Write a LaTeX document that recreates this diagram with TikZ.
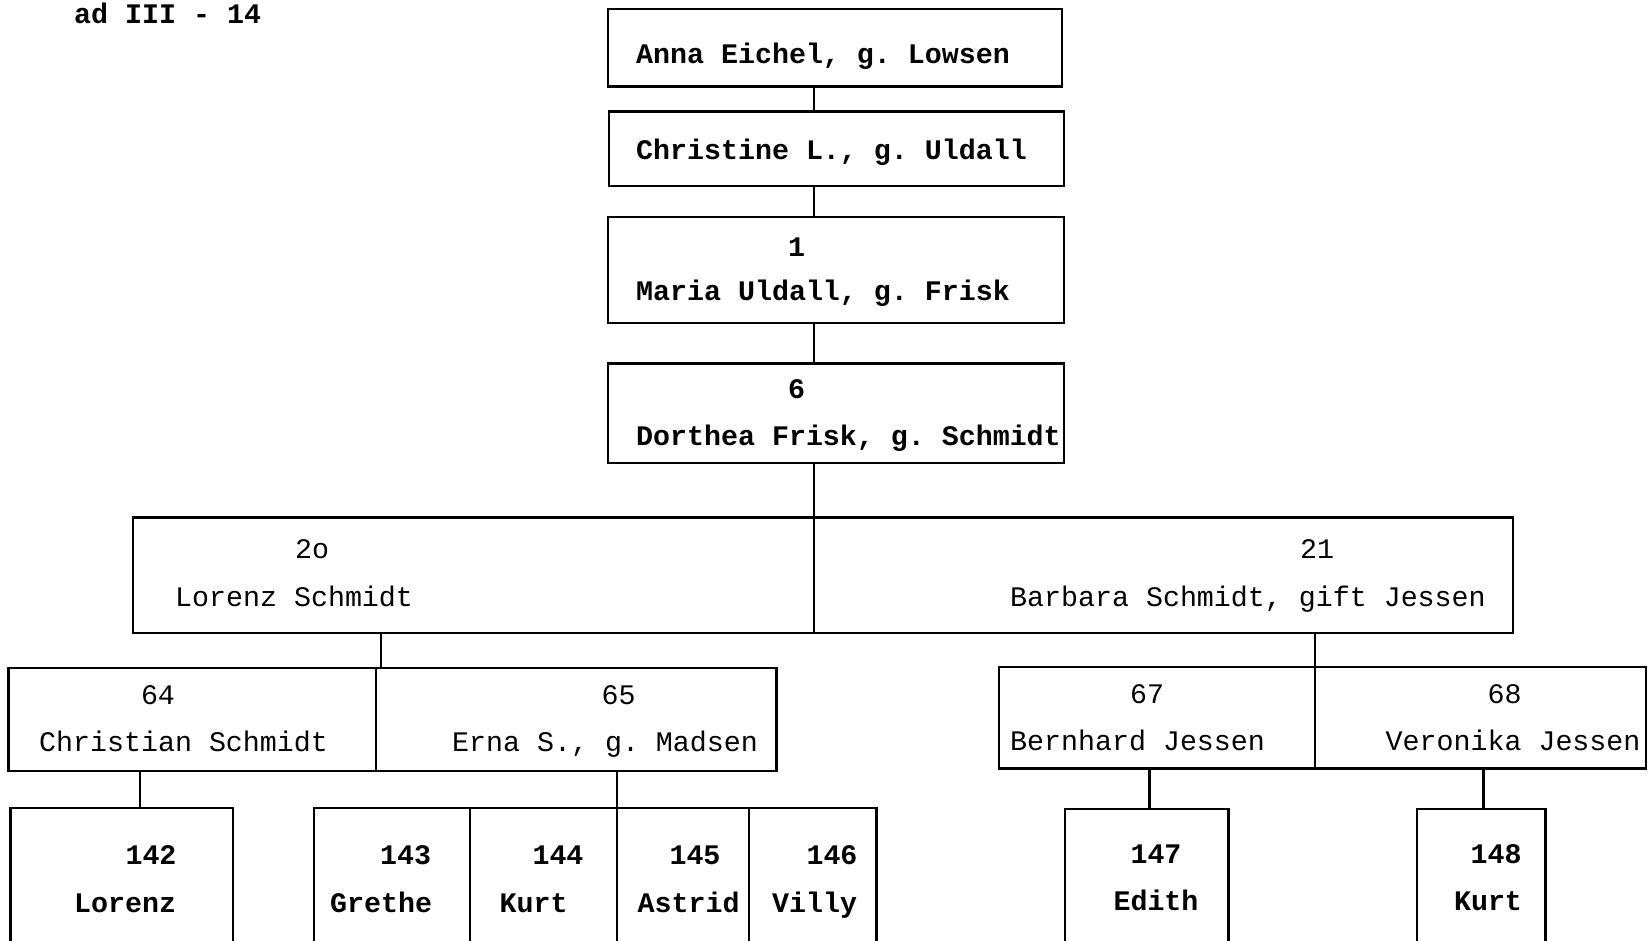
\documentclass[tikz,border=0pt]{standalone}
\usepackage{fontspec}
\setmonofont{Liberation Mono}
\newcommand\mkbox[5]{%
  \pgfmathsetmacro\mkbw{#4-#2}%
  \pgfmathsetmacro\mkbh{#5-#3}%
  \node[box, minimum width=\mkbw pt, minimum height=\mkbh pt] (#1) at ({(#2+#4)/2},{(#3+#5)/2}) {};%
}
\tikzset{
  box/.style={draw, line width=2.2pt, rectangle, inner sep=0pt, outer sep=0pt},
  lbl/.style={inner sep=0pt, font=\ttfamily\fontsize{28.3}{30}\selectfont},
  lblb/.style={inner sep=0pt, font=\ttfamily\bfseries\fontsize{28.3}{30}\selectfont},
  conn/.style={line width=2.2pt},
}
\begin{document}
\begin{tikzpicture}[x=1pt,y=-1pt]
\clip (0,0) rectangle (1652,940);
\fill[white] (0,0) rectangle (1652,940);
% boxes
\mkbox{A}{608}{9}{1062}{86.5}
\mkbox{B}{609}{111.5}{1064}{186}
\mkbox{C}{608}{217}{1064}{323}
\mkbox{D}{608}{363.5}{1064}{463}
\mkbox{E20}{133}{517.5}{814}{633}
\mkbox{E21}{814}{517.5}{1513}{633}
\mkbox{F64}{8.5}{668}{376}{771}
\mkbox{F65}{376}{668}{776.5}{771}
\mkbox{G67}{999}{667}{1315}{768.5}
\mkbox{G68}{1315}{667}{1646}{768.5}
\mkbox{H}{10.5}{808}{233}{990}
\mkbox{I143}{314}{808}{470}{990}
\mkbox{I144}{470}{808}{617}{990}
\mkbox{I145}{617}{808}{749}{990}
\mkbox{I146}{749}{808}{876.5}{990}
\mkbox{J}{1065}{809}{1228.5}{990}
\mkbox{K}{1417}{809}{1545.5}{990}
% connector positions
\coordinate (sp) at (814,0);
\coordinate (kF) at (381,0);
\coordinate (kH) at (140,0);
\coordinate (kJ) at (1149.5,0);
\coordinate (kK) at (1483.5,0);
% connectors
\draw[conn] (A.south -| sp) -- (B.north -| sp);
\draw[conn] (B.south -| sp) -- (C.north -| sp);
\draw[conn] (C.south -| sp) -- (D.north -| sp);
\draw[conn] (D.south -| sp) -- (E20.north east);
\draw[conn] (E20.south -| kF) -- (F64.north -| kF);
\draw[conn] (E21.south -| G67.east) -- (G67.north east);
\draw[conn] (F64.south -| kH) -- (H.north -| kH);
\draw[conn] (F65.south -| I144.east) -- (I144.north east);
\draw[conn] (G67.south -| kJ) -- (J.north -| kJ);
\draw[conn] (G68.south -| kK) -- (K.north -| kK);
% texts
\node[lblb, anchor=base west] (tAd) at (74,23) {ad III - 14};
\node[lblb, anchor=base west] (tA) at (636,63) {Anna Eichel, g. Lowsen};
\node[lblb, anchor=base west] (tB) at (636,159) {Christine L., g. Uldall};
\node[lblb, anchor=base] (nC) at (796.5,256) {1};
\node[lblb, anchor=base west] (tC) at (636,300) {Maria Uldall, g. Frisk};
\node[lblb, anchor=base] (nD) at (796.5,398) {6};
\node[lblb, anchor=base west] (tD) at (636,445) {Dorthea Frisk, g. Schmidt};
\node[lbl, anchor=base] (n20) at (312,558) {2o};
\node[lbl, anchor=base west] (t20) at (175,606) {Lorenz Schmidt};
\node[lbl, anchor=base] (n21) at (1317,558) {21};
\node[lbl, anchor=base west] (t21) at (1010,606) {Barbara Schmidt, gift Jessen};
\node[lbl, anchor=base] (n64) at (158,704) {64};
\node[lbl, anchor=base west] (t64) at (39,751) {Christian Schmidt};
\node[lbl, anchor=base] (n65) at (618.5,704) {65};
\node[lbl, anchor=base west] (t65) at (452,751) {Erna S., g. Madsen};
\node[lbl, anchor=base] (n67) at (1147,703) {67};
\node[lbl, anchor=base west] (t67) at (1010,750) {Bernhard Jessen};
\node[lbl, anchor=base] (n68) at (1504.5,703) {68};
\node[lbl, anchor=base west] (t68) at (1385.5,750) {Veronika Jessen};
\node[lblb, anchor=base] (n142) at (151,864) {142};
\node[lblb, anchor=base west] (t142) at (74,912) {Lorenz};
\node[lblb, anchor=base] (n143) at (405.6,864) {143};
\node[lblb, anchor=base west] (t143) at (330,912) {Grethe};
\node[lblb, anchor=base] (n144) at (558,864) {144};
\node[lblb, anchor=base west] (t144) at (499.4,912) {Kurt};
\node[lblb, anchor=base] (n145) at (695,864) {145};
\node[lblb, anchor=base west] (t145) at (637.4,912) {Astrid};
\node[lblb, anchor=base] (n146) at (832,864) {146};
\node[lblb, anchor=base west] (t146) at (772,912) {Villy};
\node[lblb, anchor=base] (n147) at (1156,863) {147};
\node[lblb, anchor=base] (t147) at (1156,910) {Edith};
\node[lblb, anchor=base] (n148) at (1496,863) {148};
\node[lblb, anchor=base] (t148) at (1488,910) {Kurt};
\end{tikzpicture}
\end{document}
